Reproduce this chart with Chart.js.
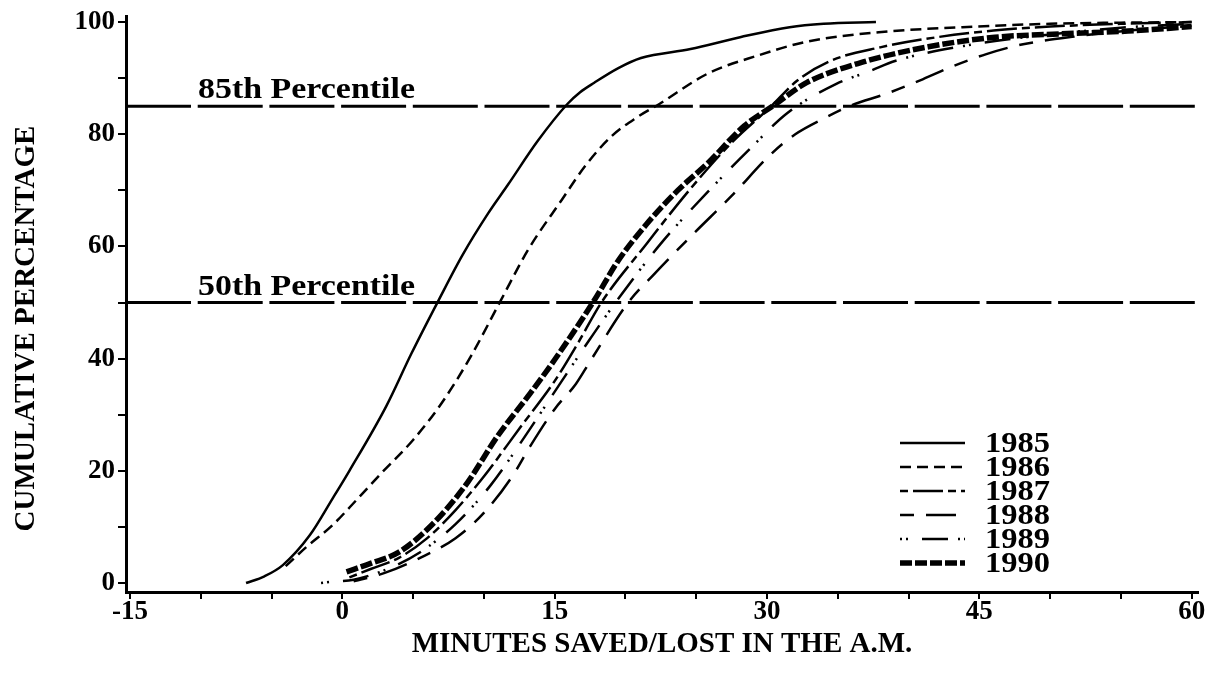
<!DOCTYPE html>
<html>
<head>
<meta charset="utf-8">
<script src="https://cdn.jsdelivr.net/npm/chart.js@4.4.0/dist/chart.umd.min.js"></script>
<style>
  html, body { margin: 0; padding: 0; background: #fff; }
  #wrap { width: 1218px; height: 676px; }
</style>
</head>
<body>
<div id="wrap"><canvas id="cdfChart" width="1218" height="676"></canvas></div>
<script>
// cumulative distribution of minutes saved/lost, one curve per year
const years = ['1985', '1986', '1987', '1988', '1989', '1990'];

const minutes1985 = [-6.8, -5.5, -4.2, -2.3, -0.7, 0.5, 3.1, 4.9, 6.8, 8.5, 10.3, 11.7, 13.8, 15.9, 16.8, 17.8, 19.5, 21.1, 24.6, 28.1, 31.6, 34, 37.7];
const pct1985     = [0, 1.2, 3.2, 8.5, 15.0, 20, 31.5, 41, 50.4, 58.5, 65.9, 71, 78.8, 85.4, 87.5, 89.2, 91.8, 93.6, 95.2, 97.3, 99.1, 99.7, 100];

const minutes1986 = [-4.0, -2.5, -0.7, 1, 2.8, 5, 7.0, 9.1, 11.2, 13.1, 15.5, 17.2, 19, 20.8, 22.4, 25.8, 29.3, 32.8, 37.9, 43.8, 50, 55, 60];
const pct1986     = [3.0, 6.5, 10.3, 14.8, 19.7, 25.5, 32, 40.5, 50.4, 59.3, 68.3, 74.5, 79.6, 83, 85.4, 90.8, 94, 96.5, 98.2, 99.1, 99.7, 99.9, 100];

const minutes1987 = [0.5, 2, 4, 6, 8, 10, 12.5, 15, 16.7, 18.3, 21.5, 24.5, 27.5, 30.3, 32.1, 34.4, 38, 42, 46, 50, 55, 60];
const pct1987     = [1, 2.5, 4.5, 8, 13, 19, 27.5, 36, 43, 50, 60.5, 70, 78.5, 85, 89.5, 93, 95.5, 97.3, 98.5, 99.2, 99.7, 100];

const minutes1988 = [0.8, 3, 5.5, 8, 10, 12, 13.3, 15, 16.5, 17.5, 20.2, 22, 24.7, 27.5, 30.3, 32, 34, 35.8, 38.5, 41, 43, 45.5, 48, 52, 56, 60];
const pct1988     = [0.3, 1.8, 4.5, 8, 12.5, 19, 24.5, 31, 35.5, 39.5, 50, 55, 62, 69, 76.5, 80, 82.8, 85, 87.3, 89.8, 92, 94.3, 96, 97.5, 98.6, 99.3];

const minutes1989 = [-1.5, -0.8, 0.8, 3, 5.5, 8, 10.5, 13, 15.5, 17.5, 19.3, 22.5, 26.3, 28.8, 31.4, 34.9, 37.2, 39.1, 44, 50, 55, 60];
const pct1989     = [0, 0.2, 0.6, 2.3, 5.5, 10.5, 17.5, 26.5, 36, 43.5, 50, 60.5, 71, 77.4, 83.7, 89, 91.2, 93.1, 95.8, 97.8, 99, 99.7];

const minutes1990 = [0.3, 2, 4, 6.3, 8.7, 11, 13.3, 15, 17.8, 19.5, 21.5, 23.7, 25.8, 28.4, 30.5, 32.8, 36.8, 41.4, 46.1, 50.8, 55.5, 60];
const pct1990     = [2, 3.5, 5.5, 10.3, 17.4, 26.3, 33.9, 39.8, 50.4, 57.5, 64, 70, 74.8, 81.5, 85.2, 89.2, 92.9, 95.6, 97.3, 97.9, 98.4, 99.2];

const percentileLevels = [85, 50];
const percentileNames = ['85th Percentile', '50th Percentile'];

const xTickValues = [-15, -10, -5, 0, 5, 10, 15, 20, 25, 30, 35, 40, 45, 50, 55, 60];
const xTickLabels = [-15, 0, 15, 30, 45, 60];
const yTickValues = [0, 10, 20, 30, 40, 50, 60, 70, 80, 90, 100];
const yTickLabels = [0, 20, 40, 60, 80, 100];

const xTitle = 'MINUTES SAVED/LOST IN THE A.M.';
const yTitle = 'CUMULATIVE PERCENTAGE';

const X_MIN = -15.28, X_MAX = 60.45;
const Y_MIN = -1.6, Y_MAX = 101;

const SERIF = '"Liberation Serif", "DejaVu Serif", serif';

function toPoints(xs, ys) {
  return xs.map((x, i) => ({ x: x, y: ys[i] }));
}

// line style for each year, in the order of `years`
const yearStyles = [
  { width: 2.5, dash: [] },
  { width: 2.5, dash: [11, 6] },
  { width: 2.5, dash: [8, 5, 30, 5] },
  { width: 2.5, dash: [14, 12, 30, 12] },
  { width: 2.5, dash: [2, 4, 2, 14, 26, 10] },
  { width: 5.5, dash: [12, 3] }
];

const yearSeries = [
  [minutes1985, pct1985], [minutes1986, pct1986], [minutes1987, pct1987],
  [minutes1988, pct1988], [minutes1989, pct1989], [minutes1990, pct1990]
];

const datasets = years.map((yr, i) => ({
  label: yr,
  data: toPoints(yearSeries[i][0], yearSeries[i][1]),
  borderColor: '#000',
  borderWidth: yearStyles[i].width,
  borderDash: yearStyles[i].dash,
  borderCapStyle: 'butt',
  pointRadius: 0,
  cubicInterpolationMode: 'monotone',
  fill: false,
  isYear: true
}));

percentileLevels.forEach((lvl, i) => {
  datasets.push({
    label: percentileNames[i],
    data: [{ x: X_MIN, y: lvl }, { x: X_MAX, y: lvl }],
    borderColor: '#000',
    borderWidth: 3,
    borderDash: [65, 6.7],
    borderCapStyle: 'butt',
    pointRadius: 0,
    fill: false,
    isYear: false
  });
});

// text drawn stretched to a given width
function fitText(ctx, text, x, y, width) {
  const w = ctx.measureText(text).width;
  ctx.save();
  ctx.translate(x, y);
  ctx.scale(width / w, 1);
  ctx.fillText(text, 0, 0);
  ctx.restore();
}

const percentileText = {
  id: 'percentileText',
  afterDatasetsDraw(chart) {
    const { ctx, chartArea, scales } = chart;
    ctx.save();
    ctx.fillStyle = '#000';
    ctx.font = 'bold 29px ' + SERIF;
    ctx.textAlign = 'left';
    ctx.textBaseline = 'alphabetic';
    percentileLevels.forEach((lvl, i) => {
      const y = scales.y.getPixelForValue(lvl) - 8;
      fitText(ctx, percentileNames[i], chartArea.left + 72, y, 217);
    });
    ctx.restore();
  }
};

// vertical axis title, sitting a little below the axis middle
const sideTitle = {
  id: 'sideTitle',
  afterDraw(chart) {
    const { ctx, chartArea } = chart;
    ctx.save();
    ctx.fillStyle = '#000';
    ctx.font = 'bold 29px ' + SERIF;
    ctx.textAlign = 'center';
    ctx.textBaseline = 'middle';
    ctx.translate(27, chartArea.top + 312);
    ctx.rotate(-Math.PI / 2);
    ctx.fillText(yTitle, 0, 0);
    ctx.restore();
  }
};

const yearKey = {
  id: 'yearKey',
  afterDatasetsDraw(chart) {
    const { ctx, chartArea } = chart;
    const x0 = chartArea.right - 298, x1 = chartArea.right - 233;
    const tx = chartArea.right - 213;
    let y = chartArea.bottom - 149;
    ctx.save();
    chart.data.datasets.filter(d => d.isYear).forEach(d => {
      ctx.strokeStyle = d.borderColor;
      ctx.lineWidth = d.borderWidth;
      ctx.lineCap = 'butt';
      ctx.setLineDash(d.borderDash);
      ctx.beginPath();
      ctx.moveTo(x0, y);
      ctx.lineTo(x1, y);
      ctx.stroke();
      ctx.setLineDash([]);
      ctx.fillStyle = '#000';
      ctx.font = 'bold 30px ' + SERIF;
      ctx.textBaseline = 'middle';
      fitText(ctx, d.label, tx, y + 1, 65);
      y += 24;
    });
    ctx.restore();
  }
};

const ctx = document.getElementById('cdfChart').getContext('2d');

new Chart(ctx, {
  type: 'line',
  data: { datasets: datasets },
  options: {
    responsive: false,
    animation: false,
    devicePixelRatio: 1,
    layout: { padding: { top: 10, right: 20, bottom: 0, left: 0 } },
    plugins: {
      legend: { display: false },
      tooltip: { enabled: false }
    },
    scales: {
      x: {
        type: 'linear',
        min: X_MIN,
        max: X_MAX,
        afterBuildTicks: s => { s.ticks = xTickValues.map(v => ({ value: v })); },
        afterFit: s => { s.height = 84; },
        ticks: {
          autoSkip: false,
          maxRotation: 0,
          padding: 0,
          color: '#000',
          font: { family: SERIF, size: 27, weight: 'bold', lineHeight: 1 },
          callback: v => xTickLabels.includes(v) ? String(v) : ''
        },
        grid: { drawOnChartArea: false, drawTicks: true, tickLength: 7, color: '#000', lineWidth: 2 },
        border: { display: true, color: '#000', width: 3 },
        title: {
          display: true,
          text: xTitle,
          color: '#000',
          font: { family: SERIF, size: 29, weight: 'bold', lineHeight: 1.2 },
          padding: { top: 0, bottom: 14 }
        }
      },
      y: {
        type: 'linear',
        min: Y_MIN,
        max: Y_MAX,
        afterBuildTicks: s => { s.ticks = yTickValues.map(v => ({ value: v })); },
        afterFit: s => { s.width = 126; },
        ticks: {
          autoSkip: false,
          padding: 3,
          color: '#000',
          font: { family: SERIF, size: 27, weight: 'bold', lineHeight: 1 },
          callback: v => yTickLabels.includes(v) ? String(v) : ''
        },
        grid: { drawOnChartArea: false, drawTicks: true, tickLength: 8, color: '#000', lineWidth: 2 },
        border: { display: true, color: '#000', width: 3 }
      }
    }
  },
  plugins: [percentileText, yearKey, sideTitle]
});
</script>
</body>
</html>
